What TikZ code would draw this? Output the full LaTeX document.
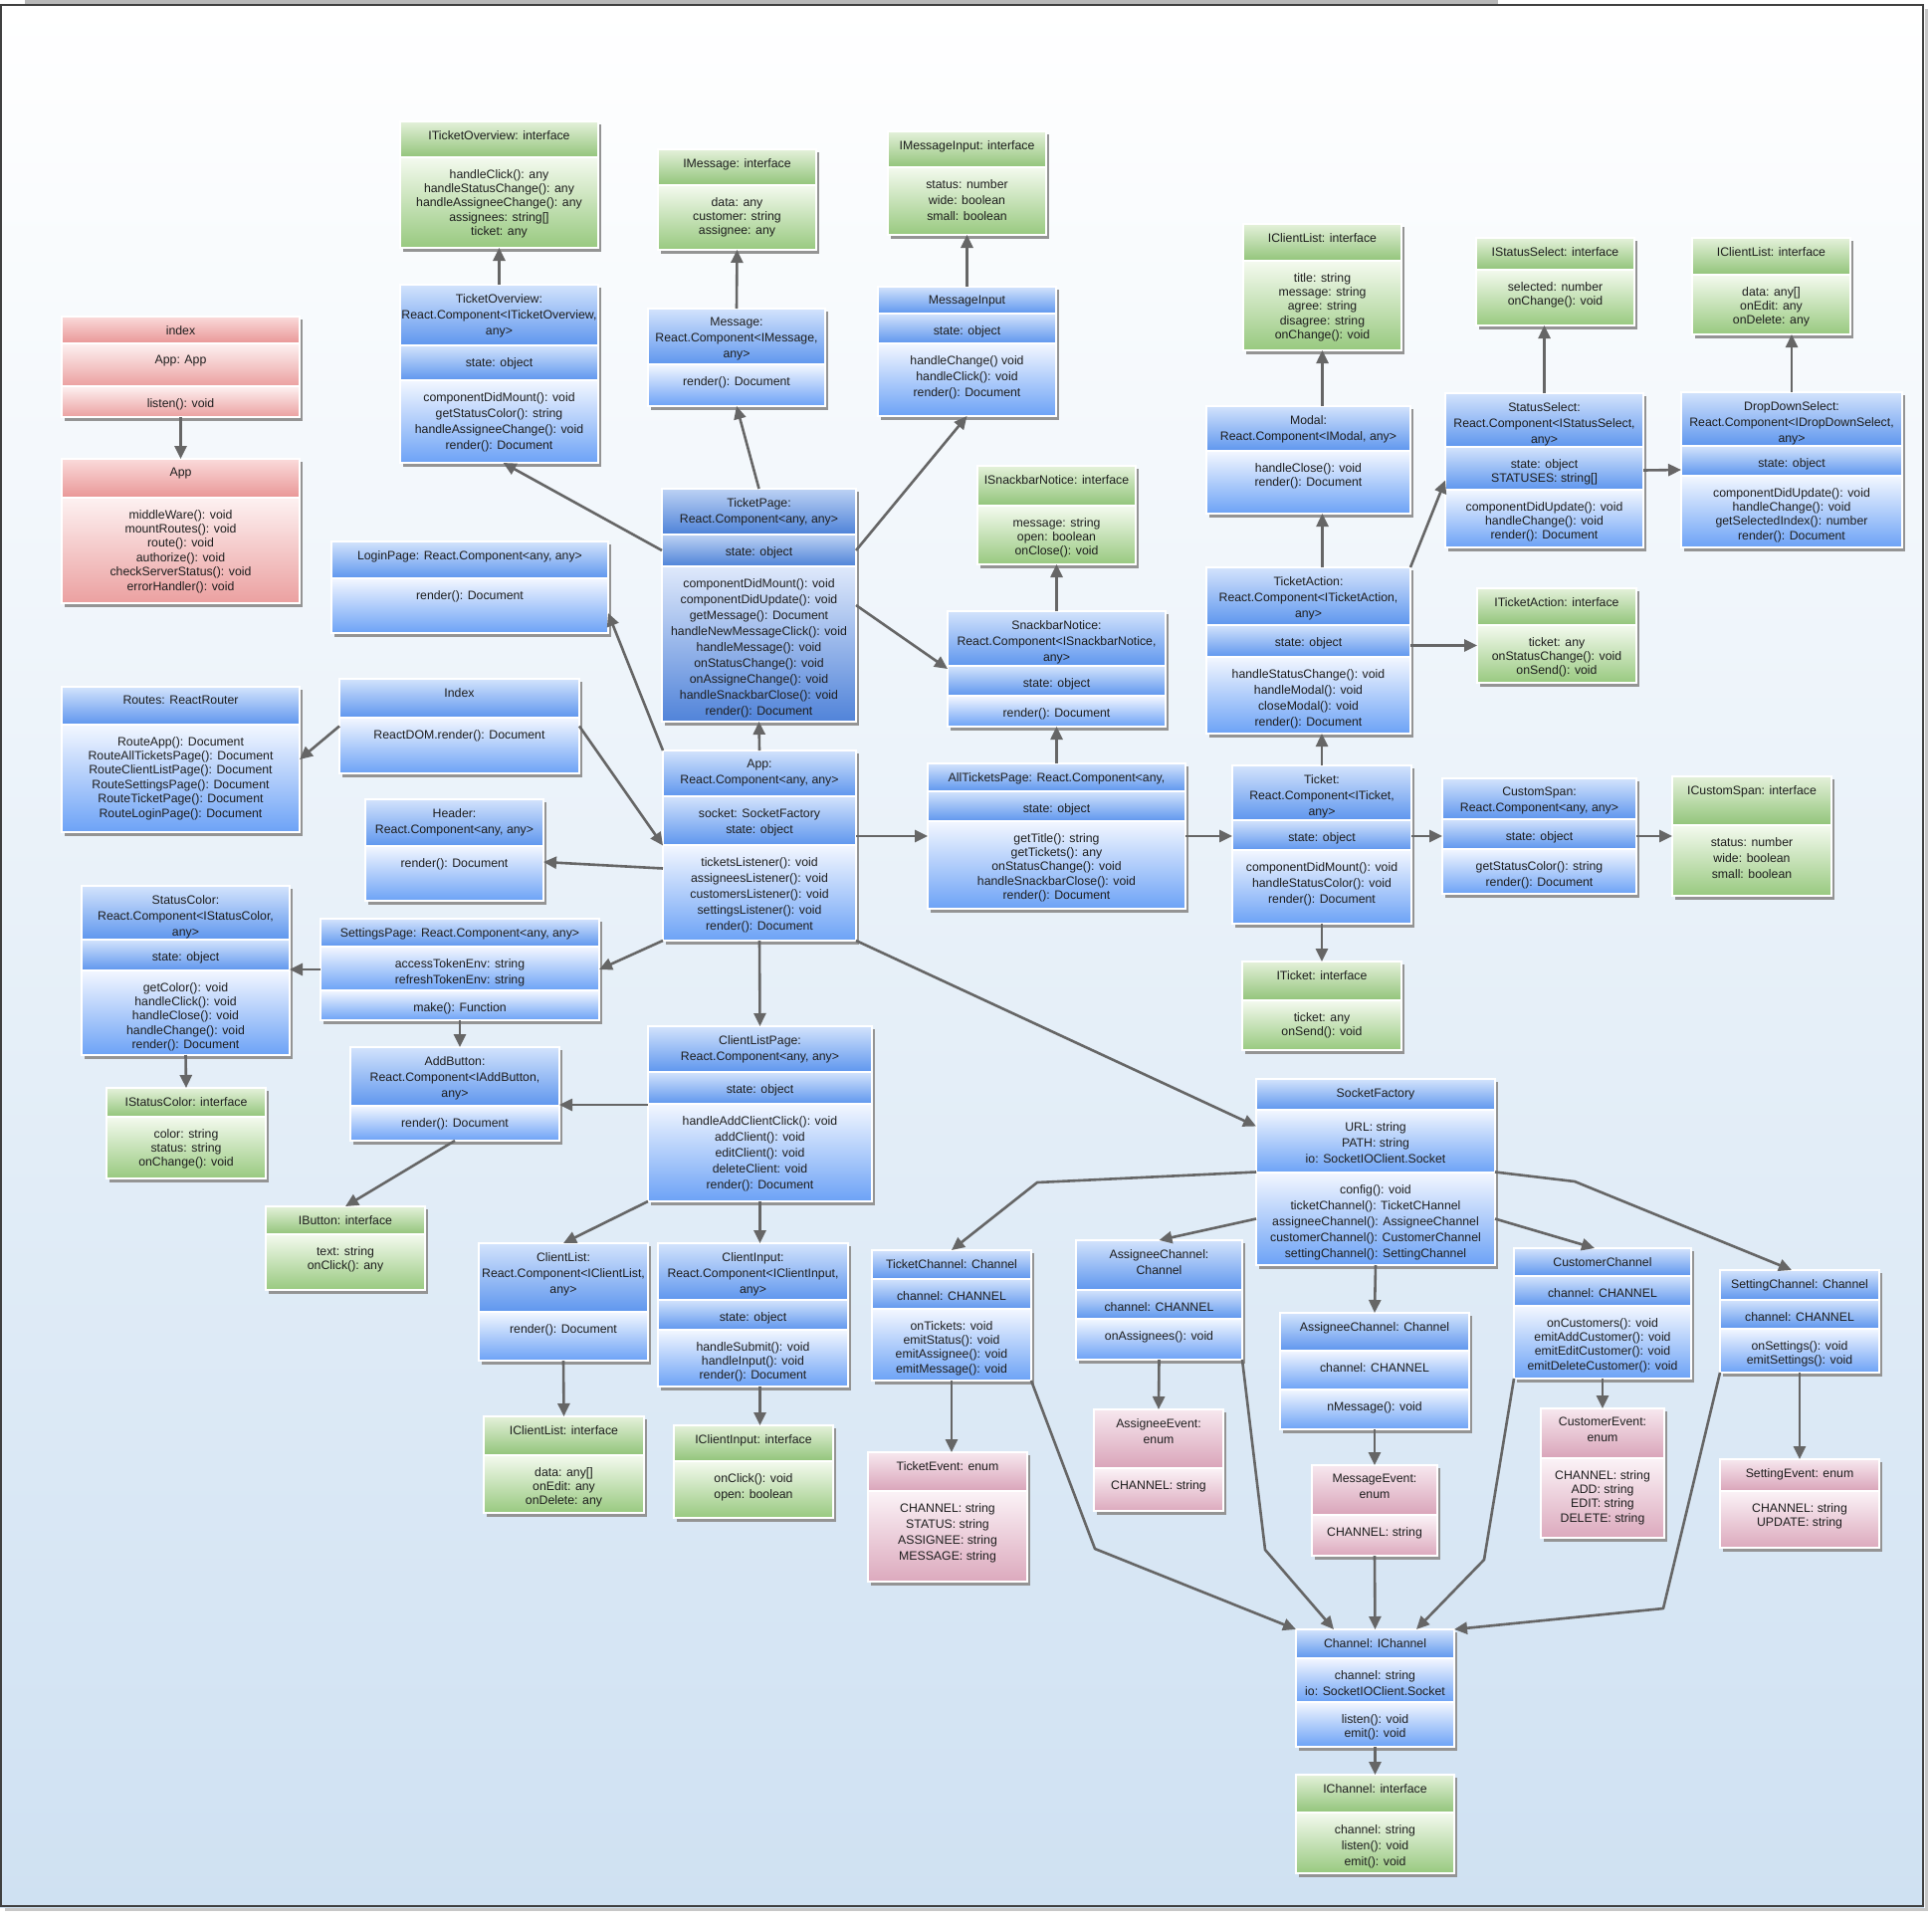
\documentclass[tikz,border=0pt]{standalone}
\usepackage{fontspec}
\setmainfont{Liberation Sans}
\usetikzlibrary{arrows.meta}
\definecolor{txtc}{HTML}{1E1E1E}
\definecolor{hbT}{HTML}{D3E3FC}\definecolor{hbB}{HTML}{5E96EE}
\definecolor{cbT}{HTML}{F3F7FF}\definecolor{cbB}{HTML}{6CA2F6}
\definecolor{hdT}{HTML}{BDD2F4}\definecolor{hdB}{HTML}{4D82D8}
\definecolor{cdT}{HTML}{DFE9FB}\definecolor{cdB}{HTML}{5083D9}
\definecolor{hgT}{HTML}{E4F1DA}\definecolor{hgB}{HTML}{92C47A}
\definecolor{cgT}{HTML}{F4FAEF}\definecolor{cgB}{HTML}{98C97F}
\definecolor{hrT}{HTML}{FADADA}\definecolor{hrB}{HTML}{E99797}
\definecolor{crT}{HTML}{FDF1F1}\definecolor{crB}{HTML}{EBA0A0}
\definecolor{hpT}{HTML}{F7E8EF}\definecolor{hpB}{HTML}{D9A4B9}
\definecolor{cpT}{HTML}{FBF3F7}\definecolor{cpB}{HTML}{DCA9BD}
\definecolor{bgB}{HTML}{CFE1F2}
\definecolor{arrc}{HTML}{666666}
\tikzset{
  hb/.style={top color=hbT,bottom color=hbB},
  cb/.style={top color=cbT,bottom color=cbB},
  hbd/.style={top color=hdT,bottom color=hdB},
  cbd/.style={top color=cdT,bottom color=cdB},
  hg/.style={top color=hgT,bottom color=hgB},
  cg/.style={top color=cgT,bottom color=cgB},
  hr/.style={top color=hrT,bottom color=hrB},
  cr/.style={top color=crT,bottom color=crB},
  hp/.style={top color=hpT,bottom color=hpB},
  cp/.style={top color=cpT,bottom color=cpB},
  boxshadow/.style={fill=black!42},
  txt/.style={text=txtc,align=center,inner sep=0pt},
  arr/.style={draw=arrc,line width=2.6pt,line join=round,-{Triangle[length=13pt,width=12pt]}}
}
\newcount\tcnt
\newcommand\umlbox[5]{%
  \fill[boxshadow] ({#2+3},{#3+3}) rectangle ({#4+3},{#5+4});
  \node[inner sep=0pt,outer sep=0pt,minimum width={#4-#2},minimum height={#5-#3}] (#1) at ({(#2+#4)/2},{(#3+#5)/2}) {};
}
\newcommand\compbase[8]{%
  \shade[#7] (#3,#4) rectangle (#5,#6);
  \draw[white,line width=1.1pt] (#3,#4) rectangle (#5,#6);
  \global\advance\tcnt by 1
  \node[txt,font={\fontsize{12.3}{#2}\selectfont},anchor=north] (t\the\tcnt) at ({(#3+#5)/2},{#4+#1}) {#8};
}
\newcommand\comp[7][14.4]{\compbase{12}{#1}{#2}{#3}{#4}{#5}{#6}{#7}}
\newcommand\hcomp[7][14.4]{\compbase{9}{#1}{#2}{#3}{#4}{#5}{#6}{#7}}
\begin{document}
\begin{tikzpicture}[x=1pt,y=-1pt]
\useasboundingbox (0,0) rectangle (1941,1930);
\fill[black!28] (25,0) rectangle (1505,3.5);
\shade[top color=white,bottom color=bgB] (0,4) rectangle (1933,1916);
\draw[line width=3pt,black!22] (1935.5,9) -- (1935.5,1918.5) -- (5,1918.5);
\draw[line width=2.2pt,black!75] (1.1,5) rectangle (1932,1915);

% ---- boxes ----
\umlbox{iTO}{402}{122}{601}{249}
\hcomp{402}{122}{601}{158}{hg}{ITicketOverview: interface}
\comp{402}{158}{601}{249}{cg}{handleClick(): any\\handleStatusChange(): any\\handleAssigneeChange(): any\\assignees: string[]\\ticket: any}

\umlbox{tOv}{402}{286}{601}{465}
\hcomp[16]{402}{286}{601}{347}{hb}{TicketOverview:\\React.Component<ITicketOverview,\\any>}
\comp{402}{347}{601}{382}{hb}{state: object}
\comp[16]{402}{382}{601}{465}{cb}{componentDidMount(): void\\getStatusColor(): string\\handleAssigneeChange(): void\\render(): Document}

\umlbox{index}{62}{318}{301}{419}
\hcomp{62}{318}{301}{345}{hr}{index}
\comp{62}{345}{301}{388}{cr}{App: App}
\comp{62}{388}{301}{419}{cr}{listen(): void}

\umlbox{appR}{62}{461}{301}{606}
\hcomp{62}{461}{301}{500}{hr}{App}
\comp{62}{500}{301}{606}{cr}{middleWare(): void\\mountRoutes(): void\\route(): void\\authorize(): void\\checkServerStatus(): void\\errorHandler(): void}

\umlbox{login}{333}{544}{611}{636}
\hcomp{333}{544}{611}{581}{hb}{LoginPage: React.Component<any, any>}
\comp{333}{581}{611}{636}{cb}{render(): Document}

\umlbox{iMsg}{661}{150}{820}{251}
\hcomp{661}{150}{820}{186}{hg}{IMessage: interface}
\comp{661}{186}{820}{251}{cg}{data: any\\customer: string\\assignee: any}

\umlbox{iMI}{892}{132}{1051}{236}
\hcomp{892}{132}{1051}{168}{hg}{IMessageInput: interface}
\comp[16]{892}{168}{1051}{236}{cg}{status: number\\wide: boolean\\small: boolean}

\umlbox{msg}{651}{310}{829}{408}
\hcomp[16]{651}{310}{829}{366}{hb}{Message:\\React.Component<IMessage,\\any>}
\comp{651}{366}{829}{408}{cb}{render(): Document}

\umlbox{mI}{882}{288}{1061}{418}
\hcomp{882}{288}{1061}{315}{hb}{MessageInput}
\comp{882}{315}{1061}{345}{hb}{state: object}
\comp[16]{882}{345}{1061}{418}{cb}{handleChange() void\\handleClick(): void\\render(): Document}

\umlbox{iSN}{982}{468}{1141}{567}
\hcomp{982}{468}{1141}{508}{hg}{ISnackbarNotice: interface}
\comp{982}{508}{1141}{567}{cg}{message: string\\open: boolean\\onClose(): void}

\umlbox{tp}{665}{491}{860}{725}
\hcomp[16]{665}{491}{860}{537}{hbd}{TicketPage:\\React.Component<any, any>}
\comp{665}{537}{860}{569}{hbd}{state: object}
\comp[16]{665}{569}{860}{725}{cbd}{componentDidMount(): void\\componentDidUpdate(): void\\getMessage(): Document\\handleNewMessageClick(): void\\handleMessage(): void\\onStatusChange(): void\\onAssigneChange(): void\\handleSnackbarClose(): void\\render(): Document}

\umlbox{sn}{952}{614}{1171}{730}
\hcomp[16]{952}{614}{1171}{669}{hb}{SnackbarNotice:\\React.Component<ISnackbarNotice,\\any>}
\comp{952}{669}{1171}{699}{hb}{state: object}
\comp{952}{699}{1171}{730}{cb}{render(): Document}

\umlbox{app}{666}{754}{860}{945}
\hcomp[16]{666}{754}{860}{800}{hb}{App:\\React.Component<any, any>}
\comp[16]{666}{800}{860}{849}{hb}{socket: SocketFactory\\state: object}
\comp[16]{666}{849}{860}{945}{cb}{ticketsListener(): void\\assigneesListener(): void\\customersListener(): void\\settingsListener(): void\\render(): Document}

\umlbox{atp}{932}{767}{1191}{913}
\hcomp{932}{767}{1191}{795}{hb}{AllTicketsPage: React.Component<any,}
\comp{932}{795}{1191}{825}{hb}{state: object}
\comp{932}{825}{1191}{913}{cb}{getTitle(): string\\getTickets(): any\\onStatusChange(): void\\handleSnackbarClose(): void\\render(): Document}

\umlbox{clp}{651}{1031}{876}{1207}
\hcomp[16]{651}{1031}{876}{1077}{hb}{ClientListPage:\\React.Component<any, any>}
\comp{651}{1077}{876}{1109}{hb}{state: object}
\comp[16]{651}{1109}{876}{1207}{cb}{handleAddClientClick(): void\\addClient(): void\\editClient(): void\\deleteClient: void\\render(): Document}

\umlbox{routes}{62}{690}{301}{836}
\hcomp{62}{690}{301}{728}{hb}{Routes: ReactRouter}
\comp{62}{728}{301}{836}{cb}{RouteApp(): Document\\RouteAllTicketsPage(): Document\\RouteClientListPage(): Document\\RouteSettingsPage(): Document\\RouteTicketPage(): Document\\RouteLoginPage(): Document}

\umlbox{idx}{341}{682}{582}{777}
\hcomp{341}{682}{582}{721}{hb}{Index}
\comp{341}{721}{582}{777}{cb}{ReactDOM.render(): Document}

\umlbox{hdr}{367}{803}{546}{905}
\hcomp[16]{367}{803}{546}{850}{hb}{Header:\\React.Component<any, any>}
\comp{367}{850}{546}{905}{cb}{render(): Document}

\umlbox{sc}{82}{890}{291}{1060}
\hcomp[16]{82}{890}{291}{944}{hb}{StatusColor:\\React.Component<IStatusColor,\\any>}
\comp{82}{944}{291}{975}{hb}{state: object}
\comp{82}{975}{291}{1060}{cb}{getColor(): void\\handleClick(): void\\handleClose(): void\\handleChange(): void\\render(): Document}

\umlbox{sp}{322}{923}{602}{1025}
\hcomp{322}{923}{602}{951}{hb}{SettingsPage: React.Component<any, any>}
\comp[16]{322}{951}{602}{995}{cb}{accessTokenEnv: string\\refreshTokenEnv: string}
\comp{322}{995}{602}{1025}{cb}{make(): Function}

\umlbox{iSC}{107}{1093}{267}{1184}
\hcomp{107}{1093}{267}{1122}{hg}{IStatusColor: interface}
\comp{107}{1122}{267}{1184}{cg}{color: string\\status: string\\onChange(): void}

\umlbox{ab}{352}{1052}{562}{1146}
\hcomp[16]{352}{1052}{562}{1111}{hb}{AddButton:\\React.Component<IAddButton,\\any>}
\comp{352}{1111}{562}{1146}{cb}{render(): Document}

\umlbox{iBtn}{267}{1212}{427}{1296}
\hcomp{267}{1212}{427}{1240}{hg}{IButton: interface}
\comp{267}{1240}{427}{1296}{cg}{text: string\\onClick(): any}

\umlbox{cl}{481}{1249}{651}{1367}
\hcomp[16]{481}{1249}{651}{1318}{hb}{ClientList:\\React.Component<IClientList,\\any>}
\comp{481}{1318}{651}{1367}{cb}{render(): Document}

\umlbox{ci}{661}{1249}{852}{1393}
\hcomp[16]{661}{1249}{852}{1306}{hb}{ClientInput:\\React.Component<IClientInput,\\any>}
\comp{661}{1306}{852}{1336}{hb}{state: object}
\comp{661}{1336}{852}{1393}{cb}{handleSubmit(): void\\handleInput(): void\\render(): Document}

\umlbox{iCLb}{486}{1423}{647}{1520}
\hcomp{486}{1423}{647}{1462}{hg}{IClientList: interface}
\comp{486}{1462}{647}{1520}{cg}{data: any[]\\onEdit: any\\onDelete: any}

\umlbox{iCI}{677}{1432}{837}{1525}
\hcomp{677}{1432}{837}{1468}{hg}{IClientInput: interface}
\comp[16]{677}{1468}{837}{1525}{cg}{onClick(): void\\open: boolean}

\umlbox{tc}{876}{1256}{1036}{1387}
\hcomp{876}{1256}{1036}{1285}{hb}{TicketChannel: Channel}
\comp{876}{1285}{1036}{1315}{hb}{channel: CHANNEL}
\comp{876}{1315}{1036}{1387}{cb}{onTickets: void\\emitStatus(): void\\emitAssignee(): void\\emitMessage(): void}

\umlbox{te}{872}{1459}{1032}{1589}
\hcomp{872}{1459}{1032}{1498}{hp}{TicketEvent: enum}
\comp[16]{872}{1498}{1032}{1589}{cp}{CHANNEL: string\\STATUS: string\\ASSIGNEE: string\\MESSAGE: string}

\umlbox{sf}{1262}{1084}{1502}{1271}
\hcomp{1262}{1084}{1502}{1115}{hb}{SocketFactory}
\comp[16]{1262}{1115}{1502}{1178}{cb}{URL: string\\PATH: string\\io: SocketIOClient.Socket}
\comp[16]{1262}{1178}{1502}{1271}{cb}{config(): void\\ticketChannel(): TicketCHannel\\assigneeChannel(): AssigneeChannel\\customerChannel(): CustomerChannel\\settingChannel(): SettingChannel}

\umlbox{ac1}{1081}{1246}{1248}{1366}
\hcomp[16]{1081}{1246}{1248}{1296}{hb}{AssigneeChannel:\\Channel}
\comp{1081}{1296}{1248}{1325}{hb}{channel: CHANNEL}
\comp{1081}{1325}{1248}{1366}{cb}{onAssignees(): void}

\umlbox{ac2}{1286}{1319}{1476}{1436}
\hcomp{1286}{1319}{1476}{1357}{hb}{AssigneeChannel: Channel}
\comp{1286}{1357}{1476}{1396}{cb}{channel: CHANNEL}
\comp{1286}{1396}{1476}{1436}{cb}{nMessage(): void}

\umlbox{cc}{1521}{1254}{1699}{1385}
\hcomp{1521}{1254}{1699}{1282}{hb}{CustomerChannel}
\comp{1521}{1282}{1699}{1312}{hb}{channel: CHANNEL}
\comp{1521}{1312}{1699}{1385}{cb}{onCustomers(): void\\emitAddCustomer(): void\\emitEditCustomer(): void\\emitDeleteCustomer(): void}

\umlbox{stc}{1728}{1276}{1888}{1379}
\hcomp{1728}{1276}{1888}{1306}{hb}{SettingChannel: Channel}
\comp{1728}{1306}{1888}{1335}{hb}{channel: CHANNEL}
\comp{1728}{1335}{1888}{1379}{cb}{onSettings(): void\\emitSettings(): void}

\umlbox{ae}{1099}{1416}{1229}{1518}
\hcomp[16]{1099}{1416}{1229}{1475}{hp}{AssigneeEvent:\\enum}
\comp{1099}{1475}{1229}{1518}{cp}{CHANNEL: string}

\umlbox{me}{1318}{1472}{1444}{1563}
\hcomp[16]{1318}{1472}{1444}{1522}{hp}{MessageEvent:\\enum}
\comp{1318}{1522}{1444}{1563}{cp}{CHANNEL: string}

\umlbox{ce}{1548}{1415}{1672}{1545}
\hcomp[16]{1548}{1415}{1672}{1465}{hp}{CustomerEvent:\\enum}
\comp{1548}{1465}{1672}{1545}{cp}{CHANNEL: string\\ADD: string\\EDIT: string\\DELETE: string}

\umlbox{se}{1728}{1466}{1888}{1555}
\hcomp{1728}{1466}{1888}{1498}{hp}{SettingEvent: enum}
\comp{1728}{1498}{1888}{1555}{cp}{CHANNEL: string\\UPDATE: string}

\umlbox{ch}{1302}{1637}{1461}{1755}
\hcomp{1302}{1637}{1461}{1666}{hb}{Channel: IChannel}
\comp[16]{1302}{1666}{1461}{1710}{cb}{channel: string\\io: SocketIOClient.Socket}
\comp{1302}{1710}{1461}{1755}{cb}{listen(): void\\emit(): void}

\umlbox{ich}{1302}{1783}{1461}{1882}
\hcomp{1302}{1783}{1461}{1821}{hg}{IChannel: interface}
\comp[16]{1302}{1821}{1461}{1882}{cg}{channel: string\\listen(): void\\emit(): void}

\umlbox{iCLt}{1249}{225}{1408}{352}
\hcomp{1249}{225}{1408}{262}{hg}{IClientList: interface}
\comp{1249}{262}{1408}{352}{cg}{title: string\\message: string\\agree: string\\disagree: string\\onChange(): void}

\umlbox{iSS}{1483}{239}{1642}{327}
\hcomp{1483}{239}{1642}{271}{hg}{IStatusSelect: interface}
\comp{1483}{271}{1642}{327}{cg}{selected: number\\onChange(): void}

\umlbox{iCLr}{1700}{239}{1859}{336}
\hcomp{1700}{239}{1859}{276}{hg}{IClientList: interface}
\comp{1700}{276}{1859}{336}{cg}{data: any[]\\onEdit: any\\onDelete: any}

\umlbox{modal}{1212}{408}{1417}{516}
\hcomp[16]{1212}{408}{1417}{453}{hb}{Modal:\\React.Component<IModal, any>}
\comp{1212}{453}{1417}{516}{cb}{handleClose(): void\\render(): Document}

\umlbox{ss}{1452}{395}{1651}{550}
\hcomp[16]{1452}{395}{1651}{449}{hb}{StatusSelect:\\React.Component<IStatusSelect,\\any>}
\comp{1452}{449}{1651}{492}{hb}{state: object\\STATUSES: string[]}
\comp{1452}{492}{1651}{550}{cb}{componentDidUpdate(): void\\handleChange(): void\\render(): Document}

\umlbox{dds}{1689}{394}{1911}{550}
\hcomp[16]{1689}{394}{1911}{448}{hb}{DropDownSelect:\\React.Component<IDropDownSelect,\\any>}
\comp{1689}{448}{1911}{478}{hb}{state: object}
\comp{1689}{478}{1911}{550}{cb}{componentDidUpdate(): void\\handleChange(): void\\getSelectedIndex(): number\\render(): Document}

\umlbox{ta}{1212}{570}{1417}{737}
\hcomp[16]{1212}{570}{1417}{628}{hb}{TicketAction:\\React.Component<ITicketAction,\\any>}
\comp{1212}{628}{1417}{660}{hb}{state: object}
\comp[16]{1212}{660}{1417}{737}{cb}{handleStatusChange(): void\\handleModal(): void\\closeModal(): void\\render(): Document}

\umlbox{iTA}{1484}{591}{1644}{686}
\hcomp{1484}{591}{1644}{628}{hg}{ITicketAction: interface}
\comp{1484}{628}{1644}{686}{cg}{ticket: any\\onStatusChange(): void\\onSend(): void}

\umlbox{tk}{1238}{769}{1418}{928}
\hcomp[16]{1238}{769}{1418}{824}{hb}{Ticket:\\React.Component<ITicket,\\any>}
\comp{1238}{824}{1418}{854}{hb}{state: object}
\comp[16]{1238}{854}{1418}{928}{cb}{componentDidMount(): void\\handleStatusColor(): void\\render(): Document}

\umlbox{cs}{1449}{782}{1644}{898}
\hcomp[16]{1449}{782}{1644}{823}{hb}{CustomSpan:\\React.Component<any, any>}
\comp{1449}{823}{1644}{853}{hb}{state: object}
\comp[16]{1449}{853}{1644}{898}{cb}{getStatusColor(): string\\render(): Document}

\umlbox{iCS}{1680}{780}{1840}{900}
\hcomp{1680}{780}{1840}{829}{hg}{ICustomSpan: interface}
\comp[16]{1680}{829}{1840}{900}{cg}{status: number\\wide: boolean\\small: boolean}

\umlbox{iTk}{1248}{966}{1408}{1055}
\hcomp{1248}{966}{1408}{1005}{hg}{ITicket: interface}
\comp{1248}{1005}{1408}{1055}{cg}{ticket: any\\onSend(): void}

% ---- connectors ----
\draw[arr] (index.south) -- (appR.north);
\draw[arr] (tOv.north) -- (iTO.south);
\draw[arr] ([yshift=55pt]tp.west) -- ([xshift=4pt]tOv.south);
\draw[arr] (tp.north) -- (msg.south);
\draw[arr] ([yshift=55pt]tp.east) -- (mI.south);
\draw[arr] (mI.north) -- (iMI.south);
\draw[arr] (msg.north) -- (iMsg.south);
\draw[arr] (tp.east) -- (sn.west);
\draw[arr] (sn.north) -- (iSN.south);
\draw[arr] (app.north) -- (tp.south);
\draw[arr] (app.east |- atp.west) -- (atp.west);
\draw[arr] (atp.north) -- (sn.south);
\draw[arr] (atp.east) -- (atp.east -| tk.west);
\draw[arr] (tk.north) -- (tk.north |- ta.south);
\draw[arr] (ta.north -| iCLt.south) -- (modal.south -| iCLt.south);
\draw[arr] (modal.north -| iCLt.south) -- (iCLt.south);
\draw[arr] (ta.north east) -- ([yshift=-10pt]ss.west);
\draw[arr] (ss.north) -- (ss.north |- iSS.south);
\draw[arr] (dds.north) -- (dds.north |- iCLr.south);
\draw[arr] (ss.east) -- (dds.west);
\coordinate (k21) at ([yshift=5pt]ta.east);
\draw[arr] (k21) -- (k21 -| iTA.west);
\draw[arr] (tk.east |- cs.west) -- (cs.west);
\draw[arr] (cs.east) -- (iCS.west);
\draw[arr] (tk.south) -- (iTk.north);
\draw[arr] (idx.west) -- (routes.east);
\draw[arr] (idx.east) -- (app.west);
\draw[arr] (app.north west) -- ([yshift=20pt]login.south east);
\draw[arr] ([yshift=-23pt]app.west) -- ([yshift=-12pt]hdr.east);
\draw[arr] (app.south west) -- (sp.east);
\draw[arr] (sp.west) -- (sp.west -| sc.east);
\draw[arr] (sp.south) -- (sp.south |- ab.north);
\draw[arr] (sc.south) -- (iSC.north);
\draw[arr] (ab.south) -- (iBtn.north);
\coordinate (k34) at ([yshift=9pt]clp.west);
\draw[arr] (k34) -- (k34 -| ab.east);
\draw[arr] (app.south) -- (clp.north);
\draw[arr] (clp.south west) -- (cl.north);
\draw[arr] (clp.south) -- (clp.south |- ci.north);
\draw[arr] (cl.south) -- (iCLb.north);
\draw[arr] (ci.south -| clp.south) -- (iCI.north -| clp.south);
\draw[arr] (app.south east) -- ([yshift=46pt]sf.west);
\coordinate (b1) at (1042,1188);
\draw[arr] (sf.west) -- (b1) -- (tc.north);
\draw[arr] ([yshift=-47pt]sf.west) -- (ac1.north);
\draw[arr] (sf.south) -- (ac2.north);
\draw[arr] ([yshift=-47pt]sf.east) -- ([xshift=-8pt]cc.north);
\coordinate (b2) at (1582,1187);
\draw[arr] (sf.east) -- (b2) -- ([xshift=-8pt]stc.north);
\draw[arr] (ac1.south) -- (ae.north);
\draw[arr] (ac2.south) -- (me.north);
\draw[arr] (cc.south) -- (ce.north);
\draw[arr] (stc.south) -- (se.north);
\draw[arr] (tc.south) -- (tc.south |- te.north);
\draw[arr] (me.south) -- (ch.north);
\coordinate (b3) at (1100,1556);
\draw[arr] (tc.south east) -- (b3) -- (ch.north west);
\coordinate (b4) at (1271,1557);
\draw[arr] (ac1.south east) -- (b4) -- ([xshift=38pt]ch.north west);
\coordinate (b5) at (1491,1567);
\draw[arr] (cc.south west) -- (b5) -- ([xshift=-38pt]ch.north east);
\coordinate (b6) at (1671,1616);
\draw[arr] (stc.south west) -- (b6) -- (ch.north east);
\draw[arr] (ch.south) -- (ich.north);
\end{tikzpicture}
\end{document}
